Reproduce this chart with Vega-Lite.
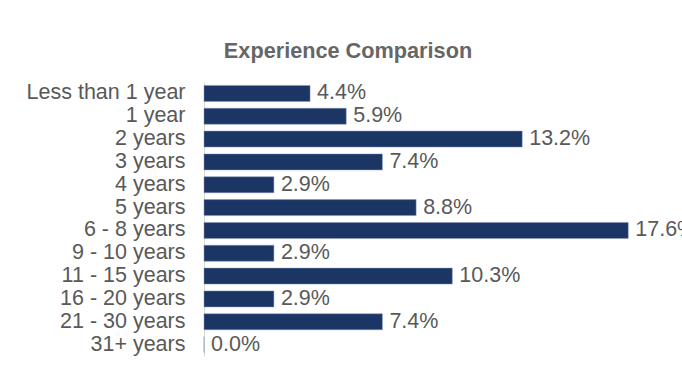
{
  "$schema": "https://vega.github.io/schema/vega-lite/v6.json",
  "autosize": {"type": "none"},
  "padding": {"left": 204, "top": 82, "right": 20, "bottom": 24},
  "width": 458,
  "height": 274,
  "config": {"font": "Liberation Sans", "view": {"stroke": null}},
  "title": {
    "text": "Experience Comparison",
    "fontSize": 21.7,
    "fontWeight": "bold",
    "color": "#666666",
    "anchor": "middle",
    "dx": -85,
    "baseline": "alphabetic",
    "offset": 2
  },
  "data": {
    "values": [
      {"category": "Less than 1 year", "pct": 0.044},
      {"category": "1 year", "pct": 0.059},
      {"category": "2 years", "pct": 0.132},
      {"category": "3 years", "pct": 0.074},
      {"category": "4 years", "pct": 0.029},
      {"category": "5 years", "pct": 0.088},
      {"category": "6 - 8 years", "pct": 0.176},
      {"category": "9 - 10 years", "pct": 0.029},
      {"category": "11 - 15 years", "pct": 0.103},
      {"category": "16 - 20 years", "pct": 0.029},
      {"category": "21 - 30 years", "pct": 0.074},
      {"category": "31+ years", "pct": 0.0}
    ]
  },
  "encoding": {
    "y": {
      "field": "category",
      "type": "nominal",
      "sort": null,
      "scale": {"paddingInner": 0.3, "paddingOuter": 0.15},
      "axis": {
        "title": null,
        "ticks": false,
        "labelPadding": 19,
        "labelFontSize": 21.5,
        "labelColor": "#595959",
        "domainColor": "#d9d9d9",
        "domainWidth": 1,
        "grid": false
      }
    },
    "x": {
      "field": "pct",
      "type": "quantitative",
      "scale": {"domain": [0, 0.19], "nice": false},
      "axis": null
    }
  },
  "layer": [
    {
      "mark": {"type": "bar", "color": "#1b3564", "stroke": "#8797b8", "strokeWidth": 0.5}
    },
    {
      "mark": {"type": "text", "align": "left", "baseline": "middle", "dx": 7, "fontSize": 21.5, "color": "#595959"},
      "encoding": {"text": {"field": "pct", "type": "quantitative", "format": ".1%"}}
    }
  ]
}
